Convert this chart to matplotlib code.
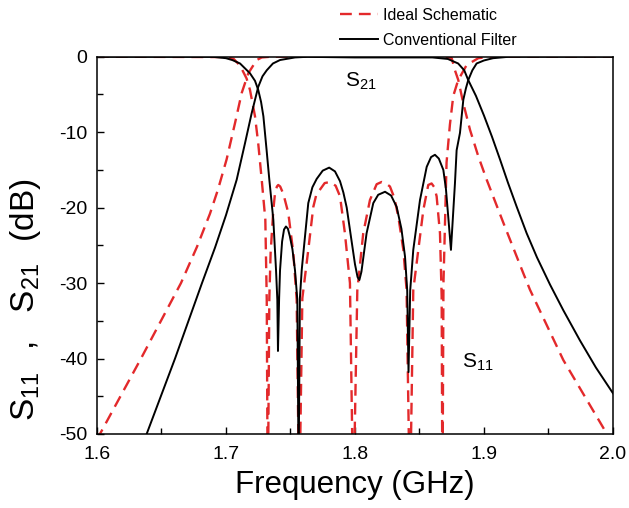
import matplotlib
matplotlib.use("Agg")
import matplotlib.pyplot as plt
from matplotlib.ticker import MultipleLocator

plt.rcParams['font.family'] = ['Liberation Sans', 'DejaVu Sans']
plt.rcParams['mathtext.fontset'] = 'custom'
plt.rcParams['mathtext.rm'] = 'Liberation Sans'
plt.rcParams['axes.unicode_minus'] = False

# ideal schematic (red dashed)
ideal_s11_f = [1.600, 1.700, 1.706, 1.711, 1.716, 1.7186, 1.7225, 1.725, 1.7277, 1.7305,
               1.7316, 1.7324, 1.7336, 1.7346, 1.7367, 1.738, 1.7395, 1.7405, 1.7420, 1.7445,
               1.7483, 1.7522, 1.7548, 1.7568, 1.7592, 1.7638, 1.7677, 1.7700, 1.7765, 1.7806,
               1.7850, 1.7884, 1.7922, 1.7961, 1.7987, 1.8018, 1.8064, 1.8116, 1.8168, 1.8207,
               1.8240, 1.8271, 1.8305, 1.8336, 1.8375, 1.8400, 1.8426, 1.8452, 1.8491, 1.8530,
               1.8568, 1.8594, 1.8615, 1.8633, 1.8659, 1.8672, 1.8678, 1.8686, 1.8698, 1.8710,
               1.8736, 1.8762, 1.8800, 1.8866, 1.8956, 1.9050, 2.000]
ideal_s11_db = [0.0, -0.05, -0.3, -1.2, -2.9, -4.4, -7.9, -11.5, -16.3, -21.6,
                -32.2, -60.0, -32.0, -26.0, -20.3, -18.1, -17.2, -17.0, -17.2, -18.2,
                -20.7, -26.0, -32.2, -60.0, -32.0, -25.6, -19.9, -18.3, -16.75, -16.6,
                -17.1, -18.5, -23.4, -30.0, -60.0, -31.0, -23.4, -19.0, -16.9, -16.6,
                -16.8, -17.2, -18.7, -21.2, -25.6, -30.9, -60.0, -30.9, -25.6, -20.3,
                -17.0, -16.8, -17.3, -18.5, -23.4, -31.8, -60.0, -30.0, -22.0, -14.0,
                -9.0, -5.2, -3.1, -1.1, -0.2, 0.0, 0.0]

ideal_s21_f = [1.6000, 1.6023, 1.6341, 1.6651, 1.6775, 1.6876, 1.6938, 1.7005, 1.7070, 1.7122,
               1.7173, 1.7238, 1.7277, 1.7350, 1.8700, 1.8750, 1.8775, 1.8801, 1.8840, 1.8892,
               1.8956, 1.9021, 1.9150, 1.9305, 1.9357, 1.9615, 1.9912, 1.9953]
ideal_s21_db = [-50.8, -50.0, -40.0, -30.0, -25.2, -20.8, -17.6, -13.6, -8.8, -4.8,
                -2.2, -0.44, -0.1, 0.0, 0.0, -0.2, -1.8, -3.1, -6.2, -9.7,
                -13.2, -16.3, -22.0, -28.7, -30.9, -40.2, -48.8, -50.0]

# conventional filter (black solid)
conv_s11_f = [1.600, 1.690, 1.700, 1.705, 1.7109, 1.7186, 1.7225, 1.725, 1.7272, 1.729,
              1.7315, 1.7336, 1.7367, 1.7388, 1.7398, 1.7403, 1.7412, 1.7419, 1.7435, 1.7450,
              1.7465, 1.7480, 1.7495, 1.7515, 1.7535, 1.7553, 1.7563, 1.7573, 1.7587, 1.7600,
              1.7638, 1.7670, 1.7703, 1.7750, 1.7800, 1.7845, 1.7884, 1.7910, 1.7936, 1.7970,
              1.8000, 1.8020, 1.8034, 1.8050, 1.8090, 1.8142, 1.8180, 1.8233, 1.8280, 1.8323,
              1.8360, 1.8388, 1.8405, 1.8415, 1.8428, 1.8452, 1.8504, 1.8556, 1.8590, 1.8620,
              1.8650, 1.8685, 1.8705, 1.8723, 1.8744, 1.8775, 1.8788, 1.8814, 1.8840, 1.8860,
              1.8878, 1.8910, 1.8943, 1.9000, 1.9070, 1.9200, 2.000]
conv_s11_db = [0.0, -0.02, -0.2, -0.45, -0.9, -2.2, -3.2, -4.4, -6.0, -7.9,
               -12.4, -16.3, -21.6, -28.3, -32.2, -39.0, -32.0, -28.3, -24.5, -22.9,
               -22.5, -22.8, -23.8, -25.5, -28.3, -32.2, -55.0, -32.0, -28.3, -26.0,
               -19.4, -17.3, -16.2, -15.1, -14.7, -15.2, -16.5, -18.0, -20.0, -24.0,
               -27.5, -29.2, -29.6, -28.5, -23.4, -19.4, -18.3, -17.9, -18.4, -19.9,
               -22.8, -26.5, -31.0, -41.8, -31.0, -25.6, -19.0, -14.6, -13.3, -13.0,
               -13.5, -15.0, -17.5, -21.2, -25.6, -16.8, -12.4, -10.1, -5.7, -4.2,
               -3.1, -1.8, -0.9, -0.5, -0.2, 0.0, 0.0]

conv_s21_f = [1.6350, 1.6385, 1.6605, 1.6814, 1.6915, 1.7000, 1.7083, 1.7147, 1.7199, 1.7250,
              1.7283, 1.7316, 1.7364, 1.7419, 1.7535, 1.7626, 1.8000, 1.8600, 1.8720, 1.8800,
              1.8847, 1.8878, 1.8938, 1.9000, 1.9062, 1.9124, 1.9186, 1.9254, 1.9331, 1.9411,
              1.9512, 1.9615, 1.9744, 1.9868, 2.0000]
conv_s21_db = [-51.5, -50.0, -40.0, -30.0, -25.3, -21.0, -16.3, -11.5, -7.5, -4.0,
               -2.6, -1.8, -0.9, -0.44, -0.1, -0.02, -0.1, -0.1, -0.3, -0.9,
               -1.8, -3.1, -5.2, -7.8, -10.6, -13.6, -16.7, -19.9, -23.4, -26.6,
               -30.2, -33.6, -37.6, -41.2, -44.6]

red = '#e3292b'
dash = (0, (5, 3))

fig = plt.figure(figsize=(6.29, 5.08), dpi=100)
ax = fig.add_axes([0.1542, 0.1457, 0.8203, 0.7427])

ax.plot(ideal_s11_f, ideal_s11_db, color=red, lw=1.7, linestyle=dash, label='Ideal Schematic')
ax.plot(ideal_s21_f, ideal_s21_db, color=red, lw=1.7, linestyle=dash)
ax.plot(conv_s11_f, conv_s11_db, color='black', lw=1.4, label='Conventional Filter')
ax.plot(conv_s21_f, conv_s21_db, color='black', lw=1.4)

ax.set_xlim(1.6, 2.0)
ax.set_ylim(-50, 0)
ax.xaxis.set_major_locator(MultipleLocator(0.1))
ax.xaxis.set_minor_locator(MultipleLocator(0.05))
ax.yaxis.set_major_locator(MultipleLocator(10))
ax.yaxis.set_minor_locator(MultipleLocator(5))
ax.tick_params(which='both', direction='in', top=False, right=False, labelsize=14, width=1.0)
ax.tick_params(which='major', length=5, pad=7)
ax.tick_params(axis='x', which='major', pad=9)
ax.tick_params(which='minor', length=4)
for s in ax.spines.values():
    s.set_linewidth(1.1)

ax.set_xlabel('Frequency (GHz)', fontsize=22.5, labelpad=5)
ax.set_ylabel(r'$\mathregular{S_{11}\ \ ,\ \ S_{21}\ \ (dB)}$', fontsize=24)
ax.yaxis.set_label_coords(-0.105, 0.355)

ax.text(1.7922, -3.97, r'$\mathregular{S_{21}}$', fontsize=15)
ax.text(1.8827, -41.2, r'$\mathregular{S_{11}}$', fontsize=15)

ax.legend(loc='upper left', bbox_to_anchor=(340 / 629, 1 - 8 / 508),
          bbox_transform=fig.transFigure, frameon=False, fontsize=11.5,
          borderpad=0, borderaxespad=0, handlelength=2.4, handletextpad=0.3,
          labelspacing=0.6)

fig.savefig('out.png', dpi=100)
